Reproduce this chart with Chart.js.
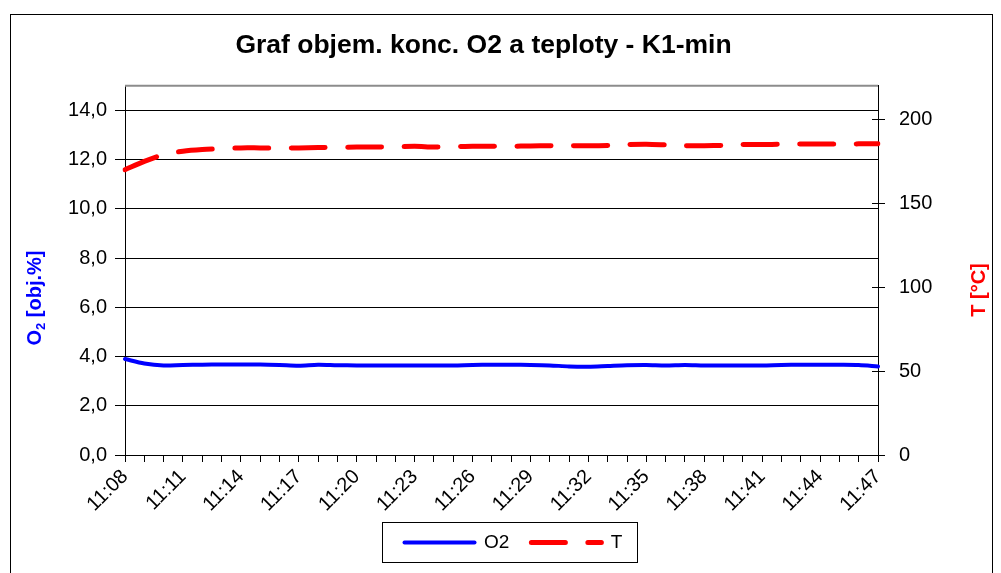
<!DOCTYPE html>
<html>
<head>
<meta charset="utf-8">
<script src="https://cdn.jsdelivr.net/npm/chart.js"></script>
<style>
  html, body { margin: 0; padding: 0; background: #fff; }
</style>
</head>
<body>
<canvas id="myChart" width="1001" height="573"></canvas>
<script>
  // DATA (one value per minute)
  const timeLabels = ['11:08','11:09','11:10','11:11','11:12','11:13','11:14','11:15','11:16','11:17',
                      '11:18','11:19','11:20','11:21','11:22','11:23','11:24','11:25','11:26','11:27',
                      '11:28','11:29','11:30','11:31','11:32','11:33','11:34','11:35','11:36','11:37',
                      '11:38','11:39','11:40','11:41','11:42','11:43','11:44','11:45','11:46','11:47'];
  // O2 [obj.%] - left axis
  const o2Values = [3.90, 3.72, 3.64, 3.66, 3.67, 3.68, 3.68, 3.68, 3.66, 3.63,
                    3.67, 3.65, 3.64, 3.64, 3.64, 3.64, 3.64, 3.64, 3.66, 3.67,
                    3.67, 3.66, 3.64, 3.60, 3.59, 3.62, 3.65, 3.66, 3.64, 3.66,
                    3.64, 3.64, 3.64, 3.64, 3.66, 3.67, 3.67, 3.67, 3.66, 3.60];
  // T [°C] - right axis
  const tValues = [170, 175, 179, 181, 182, 182.5, 183, 183, 183, 183,
                   183.2, 183.3, 183.5, 183.5, 183.6, 184, 183.5, 183.7, 184, 184,
                   184, 184.2, 184.3, 184.3, 184.3, 184.5, 185, 185.2, 184.8, 184.3,
                   184.3, 184.5, 185, 185, 185.2, 185.3, 185.3, 185.3, 185.4, 185.5];
  const leftTicksMax = 14;
  const rightTicksMax = 200;

  const FONT = "'Liberation Sans', Arial, sans-serif";

  // frame, plot top line, inner part of right ticks, axis titles, legend box
  const decorations = {
    id: 'decorations',
    afterLayout(chart) {
      // legend sits a bit right of the title centre and closer to the axis in the original
      const lg = chart.legend;
      lg.left += 30;
      lg.right += 30;
      lg.top -= 15;
      lg.bottom -= 15;
    },
    beforeDraw(chart) {
      const ctx = chart.ctx;
      ctx.save();
      ctx.fillStyle = '#fff';
      ctx.fillRect(0, 0, chart.width, chart.height);
      ctx.restore();
    },
    afterDraw(chart) {
      const ctx = chart.ctx;
      const area = chart.chartArea;
      ctx.save();
      // outer frame
      ctx.strokeStyle = '#000';
      ctx.lineWidth = 1;
      ctx.strokeRect(10.5, 14.5, 982, 620);
      // plot area top line (grey)
      ctx.strokeStyle = '#8c8c8c';
      ctx.lineWidth = 2;
      ctx.beginPath();
      ctx.moveTo(area.left, area.top);
      ctx.lineTo(area.right, area.top);
      ctx.stroke();
      // right axis ticks cross the axis
      const y2 = chart.scales.y2;
      ctx.strokeStyle = '#000';
      ctx.lineWidth = 1;
      y2.ticks.forEach(t => {
        const py = Math.round(y2.getPixelForValue(t.value)) + 0.5;
        ctx.beginPath();
        ctx.moveTo(y2.left - 6, py);
        ctx.lineTo(y2.left, py);
        ctx.stroke();
      });
      // left axis title: O2 [obj.%]
      ctx.save();
      ctx.translate(35, 298);
      ctx.rotate(-Math.PI / 2);
      ctx.fillStyle = '#0000ff';
      ctx.textBaseline = 'middle';
      const big = 'bold 20px ' + FONT;
      const small = 'bold 13px ' + FONT;
      ctx.font = big;
      const wO = ctx.measureText('O').width;
      const wRest = ctx.measureText(' [obj.%]').width;
      ctx.font = small;
      const w2 = ctx.measureText('2').width;
      const x0 = -(wO + w2 + wRest) / 2;
      ctx.textAlign = 'left';
      ctx.font = big;
      ctx.fillText('O', x0, 0);
      ctx.font = small;
      ctx.fillText('2', x0 + wO, 6);
      ctx.font = big;
      ctx.fillText(' [obj.%]', x0 + wO + w2, 0);
      ctx.restore();
      // right axis title: T [°C]
      ctx.save();
      ctx.translate(979, 290);
      ctx.rotate(-Math.PI / 2);
      ctx.fillStyle = '#ff0000';
      ctx.font = 'bold 20px ' + FONT;
      ctx.textAlign = 'center';
      ctx.textBaseline = 'middle';
      ctx.fillText('T [°C]', 0, 0);
      ctx.restore();
      // legend frame
      const boxes = chart.legend.legendHitBoxes;
      if (boxes && boxes.length) {
        const l = Math.min(...boxes.map(b => b.left));
        const r = Math.max(...boxes.map(b => b.left + b.width));
        const top = boxes[0].top;
        const h = boxes[0].height;
        ctx.strokeStyle = '#000';
        ctx.lineWidth = 1;
        ctx.strokeRect(Math.round(l - 23) + 0.5, Math.round(top - 11) + 0.5, Math.round(r - l + 37), Math.round(h + 21));
      }
      ctx.restore();
    }
  };

  const ctx = document.getElementById('myChart');

  new Chart(ctx, {
    type: 'line',
    data: {
      labels: timeLabels,
      datasets: [{
        label: 'O2',
        data: o2Values,
        yAxisID: 'y',
        borderColor: '#0000ff',
        backgroundColor: '#0000ff',
        borderWidth: 4,
        borderCapStyle: 'round',
        pointRadius: 0,
        tension: 0.3
      }, {
        label: 'T',
        data: tValues,
        yAxisID: 'y2',
        borderColor: '#ff0000',
        backgroundColor: '#ff0000',
        borderWidth: 5,
        borderDash: [34, 22.5],
        borderCapStyle: 'round',
        pointRadius: 0,
        tension: 0.3
      }]
    },
    options: {
      responsive: false,
      animation: false,
      devicePixelRatio: 1,
      layout: { padding: { left: 10, right: 44, top: 0, bottom: -4 } },
      plugins: {
        title: {
          display: true,
          text: 'Graf objem. konc. O2 a teploty - K1-min',
          color: '#000',
          font: { family: FONT, size: 26.5, weight: 'bold' },
          padding: { top: 30, bottom: 24 }
        },
        legend: {
          position: 'bottom',
          labels: {
            usePointStyle: true,
            pointStyle: 'line',
            pointStyleWidth: 70,
            color: '#000',
            font: { family: FONT, size: 19 },
            padding: 22,
            // point-style legend items do not carry the line's dash, so copy it from the dataset
            generateLabels: chart => Chart.defaults.plugins.legend.labels.generateLabels(chart).map(item => {
              const ds = chart.data.datasets[item.datasetIndex];
              item.lineDash = ds.borderDash || [];
              item.lineWidth = ds.borderWidth;
              item.lineCap = 'round';
              return item;
            })
          }
        },
        tooltip: { enabled: false }
      },
      scales: {
        x: {
          ticks: {
            autoSkip: false,
            maxRotation: 45,
            minRotation: 45,
            color: '#000',
            padding: 3,
            font: { family: FONT, size: 20 },
            callback: (v, i) => (i % 3 === 0 ? timeLabels[i] : '')
          },
          grid: { drawOnChartArea: false, color: '#000', tickLength: 7 },
          border: { color: '#000', width: 1 },
          afterFit: scale => { scale.height = 71; }
        },
        y: {
          position: 'left',
          min: 0,
          max: 15,
          afterBuildTicks: scale => { scale.ticks = scale.ticks.filter(t => t.value <= leftTicksMax); },
          ticks: {
            stepSize: 2,
            color: '#000',
            padding: 8,
            font: { family: FONT, size: 20 },
            callback: v => v.toFixed(1).replace('.', ',')
          },
          grid: { color: '#000', tickLength: 10 },
          border: { color: '#000', width: 1 },
          afterFit: scale => { scale.width = 115; }
        },
        y2: {
          position: 'right',
          min: 0,
          max: 220,
          afterBuildTicks: scale => { scale.ticks = scale.ticks.filter(t => t.value <= rightTicksMax); },
          ticks: {
            stepSize: 50,
            color: '#000',
            padding: 14,
            font: { family: FONT, size: 20 }
          },
          grid: { drawOnChartArea: false, color: '#000', tickLength: 7 },
          border: { color: '#000', width: 1 },
          afterFit: scale => { scale.width = 79; }
        }
      }
    },
    plugins: [decorations]
  });
</script>
</body>
</html>
